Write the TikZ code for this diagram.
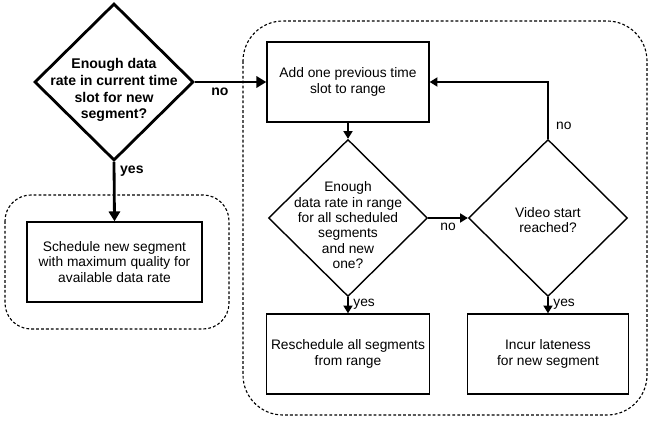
\documentclass[tikz,border=0pt]{standalone}
\usepackage{fontspec}
\setmainfont{Liberation Sans}
\usetikzlibrary{shapes.geometric,arrows.meta}

\tikzset{
  txt/.style={font=\fontsize{9.8}{10.9}\selectfont},
  decision/.style={draw, diamond, line width=1pt, inner sep=0pt, minimum width=3.975cm, minimum height=3.925cm},
  action/.style={draw, rectangle, line width=1pt, minimum height=2cm, align=center, txt},
  flow/.style={-{Triangle[length=5.5pt,width=6.5pt]}, line width=1pt},
  group/.style={dash pattern=on 2pt off 1.5pt, line width=0.8pt},
}

\begin{document}
\begin{tikzpicture}
    \useasboundingbox (0,0) rectangle (16.3,-10.625);
    % dotted groups
    \draw[group, rounded corners=0.65cm] (0.125,-4.875) rectangle (5.725,-8.225);
    \draw[group, rounded corners=1cm] (6.075,-0.525) rectangle (16.175,-10.375);
    % first check
    \node[decision, line width=2pt] (check) at (2.85,-2.05) {};
    \node[txt, align=center, font=\bfseries] (checktext) at ([yshift=-0.2cm]check.center) {Enough data\\rate in current time\\slot for new\\segment?};
    \node[action, minimum width=4.375cm] (schedule) at (2.8625,-6.55) {Schedule new segment\\with maximum quality for\\available data rate};
    % backtracking part
    \node[action, minimum width=4.05cm] (addslot) at (8.7,-2.05) {Add one previous time\\slot to range};
    \node[decision] (range) at (8.7,-5.45) {};
    \node[txt, align=center] (rangetext) at ([yshift=-0.18cm]range.center) {Enough\\data rate in range\\for all scheduled\\segments\\and new\\one?};
    \node[decision] (start) at (13.7,-5.45) {};
    \node[txt, align=center] (starttext) at ([yshift=-0.05cm]start.center) {Video start\\reached?};
    \node[action, minimum width=4.05cm] (reschedule) at (8.7,-8.85) {Reschedule all segments\\from range};
    \node[action, minimum width=4.025cm] (lateness) at (13.7,-8.85) {Incur lateness\\for new segment};
    % connectors
    \draw[flow, line width=2pt, -{Triangle[length=7pt,width=8pt]}] (check.east) -- node[below, txt, font=\bfseries, pos=0.35] {no} (addslot.west);
    \draw[flow, line width=2pt, -{Triangle[length=7pt,width=8pt]}] (check.south) -- node[right, txt, font=\bfseries, pos=0.15] {yes} (schedule.north);
    \draw[flow] (addslot.south) -- (range.north);
    \draw[flow] (range.east) -- node[below, txt] {no} (start.west);
    \draw[flow] (start.north) -- node[right, txt, pos=0.22, xshift=2pt] {no} (start.north |- addslot.east) -- (addslot.east);
    \draw[flow] (range.south) -- node[right, txt, pos=0.45] {yes} (reschedule.north);
    \draw[flow] (start.south) -- node[right, txt, pos=0.45] {yes} (lateness.north);
\end{tikzpicture}
\end{document}
